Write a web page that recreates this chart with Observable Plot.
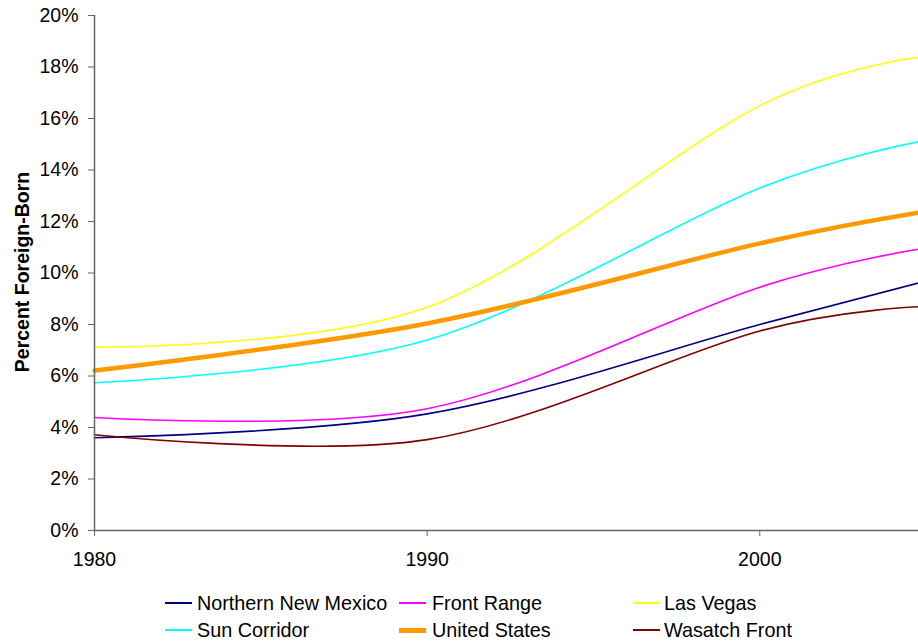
<!DOCTYPE html>
<html>
<head>
<meta charset="utf-8">
<script src="https://cdn.jsdelivr.net/npm/d3@7"></script>
<script src="https://cdn.jsdelivr.net/npm/@observablehq/plot@0.6"></script>
<style>
  html, body { margin: 0; padding: 0; background: white; overflow: hidden; }
  #wrap { position: relative; width: 918px; height: 643px; font-family: "Liberation Sans", Arial, sans-serif; }
  #wrap svg [aria-label^="x-axis"] line, #wrap svg [aria-label^="x-axis"] path,
  #wrap svg [aria-label^="y-axis"] line, #wrap svg [aria-label^="y-axis"] path { stroke: #666; }
  .lg { position: absolute; height: 20px; line-height: 20px; font-size: 19.8px; color: #000; white-space: nowrap; }
  .sw { position: absolute; }
</style>
</head>
<body>
<div id="wrap"></div>
<script>
// ---- data ----
const years = [1980, 1990, 2000, 2005];
const seriesNames = ["Northern New Mexico", "Front Range", "Las Vegas", "Sun Corridor", "United States", "Wasatch Front"];
const northernNewMexico = [3.60, 4.53, 8.00, 9.69];
const frontRange        = [4.39, 4.73, 9.45, 10.97];
const lasVegas          = [7.12, 8.67, 16.50, 18.40];
const sunCorridor       = [5.74, 7.40, 13.30, 15.15];
const unitedStates      = [6.21, 8.04, 11.15, 12.39];
const wasatchFront      = [3.72, 3.53, 7.75, 8.70];
const seriesValues = [northernNewMexico, frontRange, lasVegas, sunCorridor, unitedStates, wasatchFront];
const seriesColors = ["#000080", "#FF00FF", "#FFFF00", "#00FFFF", "#FF9900", "#800000"];
const seriesWidths = [1.6, 1.6, 1.6, 1.6, 4.5, 1.6];
const xTicks = [1980, 1990, 2000];
const yTicks = [0, 2, 4, 6, 8, 10, 12, 14, 16, 18, 20];
const yLabel = "Percent Foreign-Born";

// long table
const rows = [];
seriesNames.forEach((name, i) => {
  years.forEach((yr, j) => rows.push({series: name, year: yr, value: seriesValues[i][j]}));
});

const lineMarks = seriesNames.map((name, i) =>
  Plot.line(rows.filter(r => r.series === name), {
    x: "year", y: "value",
    stroke: seriesColors[i], strokeWidth: seriesWidths[i],
    curve: "cardinal", tension: 0
  })
);

const chart = Plot.plot({
  width: 918,
  height: 580,
  marginLeft: 94,
  marginRight: 0,
  marginTop: 15,
  marginBottom: 50,
  style: {
    fontFamily: "'Liberation Sans', Arial, sans-serif",
    fontSize: "19.5px",
    color: "#000",
    background: "white",
    overflow: "hidden"
  },
  x: {domain: [1980, 2005], range: [94, 925.6], ticks: xTicks, tickFormat: d => String(d), tickSize: 6, tickPadding: 16, label: null},
  y: {domain: [0, 20], ticks: yTicks, tickFormat: d => d + "%", tickSize: 6, tickPadding: 10, label: null},
  marks: [
    ...lineMarks,
    Plot.ruleX([1980], {stroke: "#666", strokeWidth: 1.5}),
    Plot.ruleY([0], {stroke: "#666", strokeWidth: 1.5}),
    Plot.text([yLabel], {text: d => d, frameAnchor: "left", textAnchor: "middle", lineAnchor: "middle", rotate: -90, dx: -72, dy: -1, fontWeight: "bold", fontSize: 19.5, fill: "#000"})
  ]
});

const wrap = document.getElementById("wrap");
wrap.appendChild(chart);

// legend (3 columns x 2 rows)
const swatchX = [165, 399, 633];
const textX = [197, 432, 664];
const rowY = [603, 630];
seriesNames.forEach((name, i) => {
  const col = i % 3, row = Math.floor(i / 3);
  const h = seriesWidths[i] > 3 ? 5 : 2;
  const sw = document.createElement("div");
  sw.className = "sw";
  sw.style.left = swatchX[col] + "px";
  sw.style.width = "27px";
  sw.style.height = h + "px";
  sw.style.top = Math.round(rowY[row] - h / 2) + "px";
  sw.style.background = seriesColors[i];
  wrap.appendChild(sw);
  const t = document.createElement("div");
  t.className = "lg";
  t.style.left = textX[col] + "px";
  t.style.top = (rowY[row] - 10) + "px";
  t.textContent = name;
  wrap.appendChild(t);
});
</script>
</body>
</html>
